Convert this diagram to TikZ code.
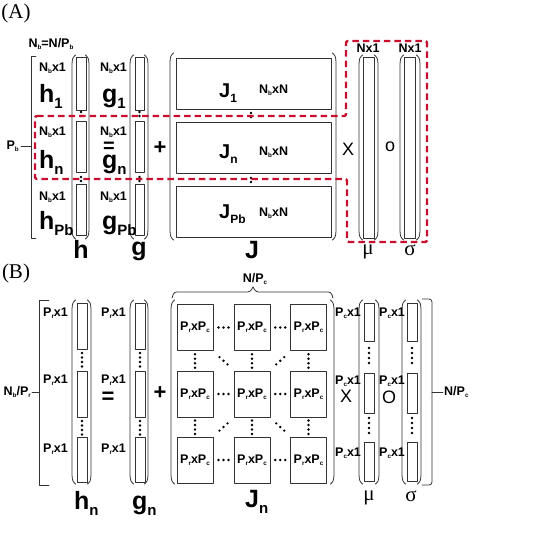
\documentclass[tikz,border=0pt]{standalone}
\usepackage{fontspec}
\setmainfont{Liberation Serif}
\setsansfont{Liberation Sans}
\usetikzlibrary{calc}
\definecolor{dashred}{RGB}{200,16,46}
% small lowered index
\newcommand\sbs[2][.5]{\raisebox{-.3ex}{\scalebox{#1}{#2}}}
\newcommand\sbl[1]{\raisebox{-.5ex}{\scalebox{.6}{#1}}}
% round brackets of a vector/matrix: left x, right x, top y, bottom y
\newcommand\parpair[4]{%
  \draw[frame] (#1+3.5,#3) .. controls (#1+.5,#3+3) .. (#1,#3+9) -- (#1,#4-9) .. controls (#1+.5,#4-3) .. (#1+3.5,#4);
  \draw[frame] (#2-3.5,#3) .. controls (#2-.5,#3+3) .. (#2,#3+9) -- (#2,#4-9) .. controls (#2-.5,#4-3) .. (#2-3.5,#4);}
\begin{document}
\begin{tikzpicture}[x=1pt, y=-1pt, line join=round, line cap=round,
  frame/.style={draw=black!80, line width=.8pt},
  reddash/.style={draw=dashred, line width=2.4pt, line cap=butt, dash pattern=on 6.5pt off 4pt},
  letter/.style={font=\fontsize{21}{21}\selectfont, inner sep=0pt},
  lbl/.style={font=\sffamily\bfseries\fontsize{12.5}{12.5}\selectfont, inner sep=0pt},
  big/.style={font=\sffamily\bfseries\fontsize{25}{25}\selectfont, inner sep=0pt},
  mid/.style={font=\sffamily\bfseries\fontsize{20}{20}\selectfont, inner sep=0pt},
  op/.style={font=\sffamily\fontsize{18}{18}\selectfont, inner sep=0pt},
  sign/.style={font=\sffamily\bfseries\fontsize{22}{22}\selectfont, inner sep=0pt},
  greek/.style={font=\fontsize{21}{21}\selectfont, inner sep=0pt},
  cell/.style={frame, minimum width=36pt, minimum height=46pt, inner sep=0pt,
    font=\sffamily\bfseries\fontsize{12.5}{12.5}\selectfont}]
\useasboundingbox (0,0) rectangle (545,542);
\def\dr{1.3pt}

% ---------------- (A)
\node[letter] (A) at (16,13) {(A)};
\node[lbl] (nb) at (51,44) {N\sbs{b}=N/P\sbs{b}};
\draw[frame] (36,56) -- (31,56) -- (31,238) -- (36,238);
\draw[frame] (31,146) -- (21,146);
\node[lbl, anchor=east] (pb) at (19,146) {P\sbs{b}};

% h and g
\foreach \xl/\xr/\bl/\br in {72/89/76/86, 130/148/135/144} {
  \parpair{\xl}{\xr}{55}{239}
  \foreach \t/\b in {57/110, 121/172, 184/235} \draw[frame] (\bl,\t) rectangle (\br,\b);
  \foreach \y in {112,116,177,181} \fill (\bl/2+\br/2,\y) circle (\dr);
}
\foreach \i/\ys/\yb/\sb in {1/68/102/1, 2/132/168/n, 3/197/229/Pb} {
  \node[lbl, anchor=west] (hd\i) at (39,\ys) {N\sbs{b}x1};
  \node[big, anchor=base west] (h\i) at (39,\yb) {h\sbl{\sb}};
  \node[lbl, anchor=west] (gd\i) at (100,\ys) {N\sbs{b}x1};
  \node[big, anchor=base west] (g\i) at (102,\yb) {g\sbl{\sb}};
}
\node[sign, font=\sffamily\bfseries\fontsize{20}{20}\selectfont] (eqA) at (109,147) {=};
\node[sign] (plA) at (160,148) {+};

% J
\parpair{170}{336}{53}{240}
\foreach \t/\b in {58/109, 122/173, 186/237} \draw[frame] (176,\t) rectangle (331,\b);
\foreach \y in {113,117,178,182} \fill (251,\y) circle (\dr);
\foreach \i/\yb/\yc/\sb in {1/97/90/1, 2/158/152/n, 3/218/213/Pb} {
  \node[mid, anchor=base west] (j\i) at (219,\yb) {J\sbl{\sb}};
  \node[lbl, anchor=west] (jd\i) at (259,\yc) {N\sbs{b}xN};
}
\node[op] (xA) at (348,149) {X};

% mu and sigma
\parpair{359}{378}{55}{240}
\draw[frame] (363,57) rectangle (374,238);
\parpair{400}{420}{55}{240}
\draw[frame] (404,57) rectangle (415,238);
\node[lbl] (nmu) at (368,48) {Nx1};
\node[lbl] (nsg) at (410,48) {Nx1};
\node[op] (oA) at (390,147) {o};

\node[big, anchor=base] (hA) at (81,258) {h};
\node[big, anchor=base] (gA) at (139,255) {g};
\node[big] (JA) at (252,250) {J};
\node[greek] (muA) at (368,252) {μ};
\node[greek] (sgA) at (410,250) {σ};

\draw[reddash, rounded corners=2] (35,116) -- (346,116) -- (346,41) -- (427,41)
  -- (427,242) -- (347,242) -- (347,179) -- (35,179) -- cycle;

% ---------------- (B)
\node[letter] (B) at (16,273) {(B)};
\draw[frame] (49,300) -- (39,300) -- (39,485) -- (49,485);
\draw[frame] (39,392) -- (32,392);
\node[lbl, anchor=east] (nbpr) at (31,392) {N\sbs{b}/P\sbs{r}};

% h_n and g_n
\foreach \xl/\xr/\bl/\br in {72/91/77/87, 130/148/135/145} {
  \parpair{\xl}{\xr}{300}{484}
  \foreach \t/\b in {303/349, 371/417, 437/482} \draw[frame] (\bl,\t) rectangle (\br,\b);
  \foreach \y in {353,357.5,362,366.5, 421,425.5,430,434.5} \fill (\bl/2+\br/2,\y) circle (\dr);
}
\foreach \i/\y in {1/313, 2/380, 3/449} {
  \node[lbl, anchor=west] (hr\i) at (43,\y) {P\sbs{r}x1};
  \node[lbl, anchor=west] (gr\i) at (101,\y) {P\sbs{r}x1};
}
\node[sign] (eqB) at (108,398) {=};
\node[sign] (plB) at (160,393) {+};

% J_n blocks
\parpair{171}{334}{300}{484}
\foreach \r/\y in {1/327.5, 2/394, 3/460}
  \foreach \c/\x in {1/195, 2/252, 3/308.5}
    \node[cell] (c\r\c) at (\x,\y) {P\sbs{r}xP\sbs{c}};
\foreach \r in {1,2,3} \foreach \a/\b in {1/2, 2/3} \foreach \d in {-5,0,5}
  \fill ($(c\r\a.east)!.5!(c\r\b.west)+(\d,0)$) circle (\dr);
\foreach \c in {1,2,3} \foreach \a/\b in {1/2, 2/3} \foreach \d in {-6.5,-2,2.5,7}
  \fill ($(c\a\c.south)!.5!(c\b\c.north)+(0,\d)$) circle (\dr);
\foreach \p/\q/\s in {11/22/1, 12/23/-1, 21/32/-1, 22/33/1} \foreach \d in {-4,0,4}
  \fill ($(c\p.south east)!.5!(c\q.north west)+(\d,{\s*\d*0.9})$) circle (\dr);
\draw[frame, rounded corners=2.5] (172,298) -- (174,292) -- (250,292) -- (253,287);
\draw[frame, rounded corners=2.5] (253,287) -- (256,292) -- (331,292) -- (333,298);
\node[lbl] (npc) at (255,279) {N/P\sbs{c}};
\node[op] (xB) at (346,396) {X};

% mu and sigma blocks
\foreach \xl/\xr/\bl/\br in {359/379/364/374, 402/421/407/417} {
  \parpair{\xl}{\xr}{300}{484}
  \foreach \t/\b in {303/341, 373/413, 442/481} \draw[frame] (\bl,\t) rectangle (\br,\b);
  \foreach \y in {348,353,358,363, 418,423,428,433} \fill (\bl/2+\br/2,\y) circle (\dr);
}
\foreach \i/\y in {1/313, 2/381, 3/453} {
  \node[lbl, anchor=west] (mr\i) at (335,\y) {P\sbs{c}x1};
  \node[lbl, anchor=west] (sr\i) at (379,\y) {P\sbs{c}x1};
}
\node[op] (oB) at (389,397) {O};
\draw[frame, rounded corners=3] (422,299) -- (432,299) -- (432,392) -- (432,485) -- (422,485);
\draw[frame] (432,392) -- (443,392);
\node[lbl, anchor=west] (npc2) at (444,392) {N/P\sbs{c}};

\node[big, anchor=base west] (hB) at (74,509) {h\sbl{n}};
\node[big, anchor=base west] (gB) at (132,509) {g\sbl{n}};
\node[big, anchor=base west] (JB) at (245,507) {J\sbl{n}};
\node[greek] (muB) at (369,498) {μ};
\node[greek] (sgB) at (411,496) {σ};
\end{tikzpicture}
\end{document}
